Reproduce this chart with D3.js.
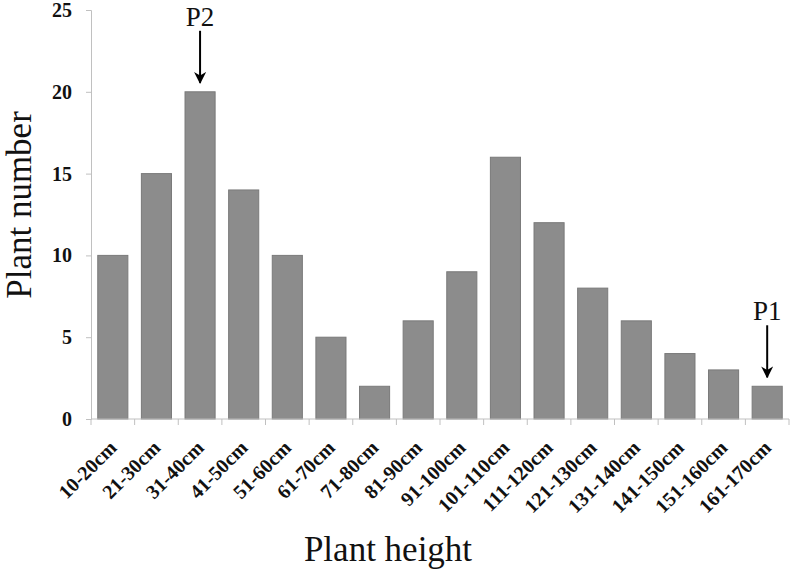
<!DOCTYPE html>
<html><head><meta charset="utf-8">
<script src="https://cdn.jsdelivr.net/npm/d3@7/dist/d3.min.js"></script>
<style>body{margin:0;background:#fff}svg{display:block}</style>
</head><body>
<script>
const categories = ["10-20cm","21-30cm","31-40cm","41-50cm","51-60cm","61-70cm","71-80cm","81-90cm","91-100cm","101-110cm","111-120cm","121-130cm","131-140cm","141-150cm","151-160cm","161-170cm"];
const counts = [10,15,20,14,10,5,2,6,9,16,12,8,6,4,3,2];
const yTicks = [0,5,10,15,20,25];
const annotations = [{cat:"31-40cm", label:"P2"},{cat:"161-170cm", label:"P1"}];

const W=792,H=569;
const svg=d3.select("body").append("svg").attr("width",W).attr("height",H);
const x=d3.scaleBand().domain(categories).range([91,789]).paddingInner(0.31).paddingOuter(0.155);
const y=d3.scaleLinear().domain([0,25]).range([419,10]);
const serif="'Liberation Serif','Times New Roman',serif";

// bars
svg.selectAll("rect.bar").data(counts).enter().append("rect")
  .attr("x",(d,i)=>x(categories[i])).attr("width",x.bandwidth())
  .attr("y",d=>y(d)).attr("height",d=>y(0)-y(d))
  .attr("fill","#8c8c8c").attr("stroke","#7a7a7a").attr("stroke-width",1);

// y axis
const ya=svg.append("g").attr("transform","translate(91,0)")
  .call(d3.axisLeft(y).tickValues(yTicks).tickSize(5).tickPadding(14));
ya.selectAll("path,line").attr("stroke","#c0c0c0");
ya.selectAll("text").attr("font-family",serif).attr("font-weight","bold").attr("font-size",20).attr("fill","#111");

// x axis with boundary ticks
const xa=svg.append("g").attr("transform","translate(0,419)");
xa.append("line").attr("x1",91).attr("x2",789).attr("stroke","#c0c0c0");
const bounds=d3.range(categories.length+1).map(i=>91+i*x.step());
xa.selectAll("line.t").data(bounds).enter().append("line")
  .attr("x1",d=>d).attr("x2",d=>d).attr("y1",0).attr("y2",6).attr("stroke","#c0c0c0");
xa.selectAll("text").data(categories).enter().append("text")
  .attr("transform",d=>`translate(${x(d)+x.bandwidth()/2+5},${30}) rotate(-45)`)
  .attr("text-anchor","end").attr("font-family",serif).attr("font-weight","bold")
  .attr("font-size",20).attr("fill","#111").text(d=>d);

// titles
svg.append("text").attr("x",388).attr("y",561).attr("text-anchor","middle")
  .attr("font-family",serif).attr("font-size",35).attr("fill","#111").text("Plant height");
svg.append("text").attr("transform","translate(31,205) rotate(-90)").attr("text-anchor","middle")
  .attr("font-family",serif).attr("font-size",35).attr("fill","#111").text("Plant number");

// annotations
svg.append("defs").append("marker").attr("id","ah").attr("viewBox","0 0 10 10")
  .attr("refX",9).attr("refY",5).attr("markerWidth",6).attr("markerHeight",6)
  .attr("markerUnits","strokeWidth").attr("orient","auto")
  .append("path").attr("d","M0,0 L10,5 L0,10 L3,5 Z").attr("fill","#000");
annotations.forEach(a=>{
  const i=categories.indexOf(a.cat);
  const cx=x(a.cat)+x.bandwidth()/2;
  const top=y(counts[i]);
  svg.append("line").attr("x1",cx).attr("x2",cx).attr("y1",top-61).attr("y2",top-9)
    .attr("stroke","#000").attr("stroke-width",2).attr("marker-end","url(#ah)");
  svg.append("text").attr("x",cx).attr("y",top-66).attr("text-anchor","middle")
    .attr("font-family",serif).attr("font-size",27).attr("fill","#111").text(a.label);
});
</script>
</body></html>
